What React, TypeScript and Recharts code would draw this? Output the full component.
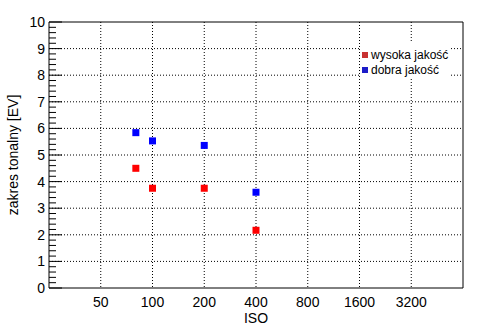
import { ScatterChart, Scatter, XAxis, YAxis, CartesianGrid, Legend, ReferenceLine } from 'recharts';

const isoValues = [80, 100, 200, 400];
const highQuality = [4.5, 3.75, 3.75, 2.17];
const goodQuality = [5.84, 5.53, 5.36, 3.6];

const xTicks = [50, 100, 200, 400, 800, 1600, 3200];
const yGrid = [1, 2, 3, 4, 5, 6, 7, 8, 9];
const yAll = Array.from({ length: 51 }, (_, i) => Math.round(i * 2) / 10);

const highData = isoValues.map((iso, i) => ({ iso, ev: highQuality[i] }));
const goodData = isoValues.map((iso, i) => ({ iso, ev: goodQuality[i] }));

const series = [
  { name: 'wysoka jakość', color: '#ff0000', legend: '#c83232', data: highData },
  { name: 'dobra jakość', color: '#0000ff', legend: '#1c1cc8', data: goodData },
];

const font = '"Liberation Sans", Arial, sans-serif';

const isMajor = (v: number) => Math.abs(v - Math.round(v)) < 1e-6;

function LeftTick(props: any) {
  const { x, y, payload } = props;
  const v = payload.value;
  const major = isMajor(v);
  return (
    <g>
      <line x1={x} y1={y} x2={x + (major ? 13 : 7)} y2={y} stroke="#000" />
      {major && (
        <text x={x - 4} y={y + 5} textAnchor="end" fontSize={14} fontFamily={font} fill="#000">
          {v}
        </text>
      )}
    </g>
  );
}

function RightTick(props: any) {
  const { x, y, payload } = props;
  const major = isMajor(payload.value);
  return <line x1={x} y1={y} x2={x - (major ? 13 : 7)} y2={y} stroke="#000" />;
}

function Square(props: any) {
  const { cx, cy, fill } = props;
  return <rect x={cx - 3.5} y={cy - 3.5} width={7} height={7} fill={fill} />;
}

function LegendBox() {
  return (
    <div style={{ background: '#fff', padding: '4px 0 0 2px', fontFamily: font, fontSize: 12, color: '#000' }}>
      {series.map((s) => (
        <div key={s.name} style={{ display: 'flex', alignItems: 'center', height: 15 }}>
          <span style={{ width: 6, height: 6, background: s.legend, marginRight: 3, display: 'inline-block' }} />
          <span>{s.name}</span>
        </div>
      ))}
    </div>
  );
}

export default function App() {
  return (
    <div style={{ position: 'absolute', left: 0, top: 0, width: 494, height: 331, background: '#fff' }}>
      <ScatterChart width={494} height={331} margin={{ top: 22, right: 0, bottom: 0, left: 0 }}>
        <CartesianGrid
          yAxisId="left"
          stroke="#000"
          strokeDasharray="1 2"
          horizontalValues={yGrid}
          verticalValues={xTicks}
        />
        <XAxis
          dataKey="iso"
          type="number"
          scale="log"
          domain={[25, 6400]}
          ticks={xTicks}
          allowDataOverflow
          height={43}
          tickLine={false}
          tickMargin={3}
          axisLine={{ stroke: '#000' }}
          tick={{ fontSize: 14, fontFamily: font, fill: '#000' }}
          label={{ value: 'ISO', position: 'insideBottom', offset: 8, fontSize: 14, fontFamily: font, fill: '#000' }}
        />
        <YAxis
          yAxisId="left"
          dataKey="ev"
          type="number"
          domain={[0, 10]}
          ticks={yAll}
          interval={0}
          width={49}
          tickSize={0}
          tickMargin={0}
          tickLine={false}
          axisLine={{ stroke: '#000' }}
          tick={<LeftTick />}
          label={{
            content: ({ viewBox }: any) => {
              const cy = viewBox.y + viewBox.height / 2;
              return (
                <text
                  x={18}
                  y={cy}
                  transform={`rotate(-90 18 ${cy})`}
                  textAnchor="middle"
                  fontSize={14}
                  fontFamily={font}
                  fill="#000"
                >
                  zakres tonalny [EV]
                </text>
              );
            },
          }}
        />
        <YAxis
          yAxisId="right"
          orientation="right"
          type="number"
          domain={[0, 10]}
          ticks={yAll}
          interval={0}
          width={31}
          tickSize={0}
          tickMargin={0}
          tickLine={false}
          axisLine={{ stroke: '#000' }}
          tick={<RightTick />}
        />
        <ReferenceLine yAxisId="left" y={10} stroke="#000" />
        <Legend
          layout="vertical"
          align="center"
          verticalAlign="middle"
          content={<LegendBox />}
          wrapperStyle={{ position: 'absolute', left: 360, top: 43, width: 90, height: 36 }}
        />
        {series.map((s) => (
          <Scatter
            key={s.name}
            name={s.name}
            yAxisId="left"
            data={s.data}
            fill={s.color}
            shape={<Square />}
            isAnimationActive={false}
          />
        ))}
      </ScatterChart>
    </div>
  );
}
